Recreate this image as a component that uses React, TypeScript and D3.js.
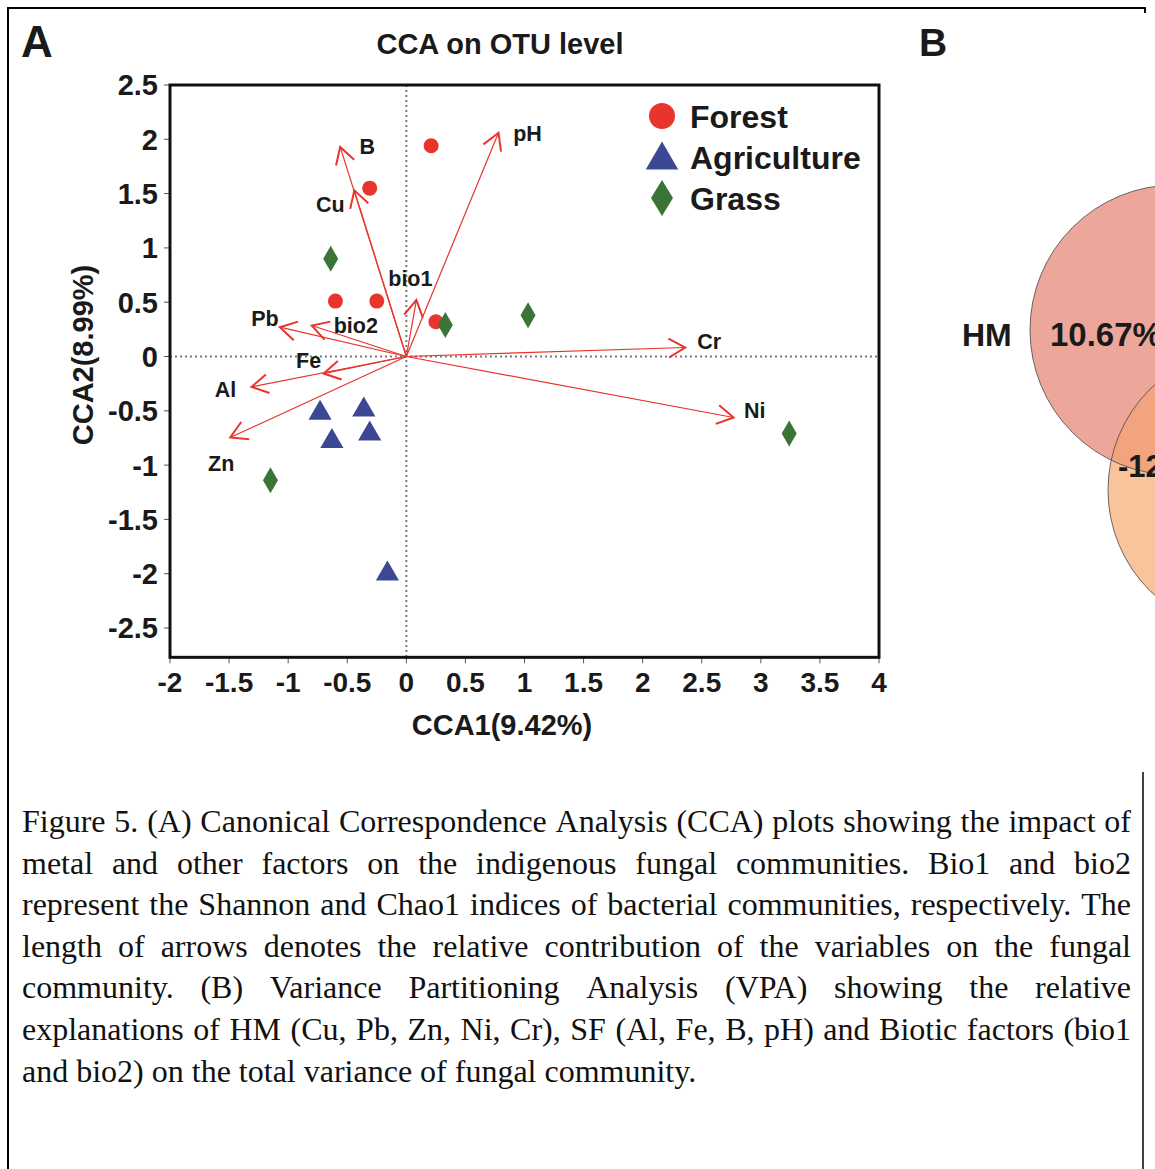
import { useEffect, useRef } from 'react'
import * as d3 from 'd3'

const xTicks = [-2, -1.5, -1, -0.5, 0, 0.5, 1, 1.5, 2, 2.5, 3, 3.5, 4]
const yTicks = [2.5, 2, 1.5, 1, 0.5, 0, -0.5, -1, -1.5, -2, -2.5]

const groups = ['Forest', 'Agriculture', 'Grass']
const forestPts: [number, number][] = [[0.21, 1.94], [-0.31, 1.55], [-0.6, 0.51], [-0.25, 0.51], [0.25, 0.32]]
const agriPts: [number, number][] = [[-0.73, -0.5], [-0.36, -0.47], [-0.63, -0.76], [-0.31, -0.69], [-0.16, -1.98]]
const grassPts: [number, number][] = [[-0.64, 0.9], [0.33, 0.29], [1.03, 0.38], [3.24, -0.71], [-1.15, -1.14]]

const envVars = ['B', 'Cu', 'pH', 'bio1', 'Pb', 'bio2', 'Fe', 'Al', 'Zn', 'Cr', 'Ni']
const envX = [-0.56, -0.44, 0.78, 0.085, -1.07, -0.8, -0.7, -1.31, -1.49, 2.36, 2.77]
const envY = [1.93, 1.53, 2.06, 0.52, 0.27, 0.285, -0.157, -0.28, -0.746, 0.083, -0.562]

// label placement relative to arrow tip, px
const labelOffsets: Record<string, [number, number]> = {
  B: [27, -1], Cu: [-24, 14], pH: [29, 0], bio1: [-6, -22], Pb: [-15, -9], bio2: [44, 0],
  Fe: [-15, -13], Al: [-26, 2], Zn: [-9, 26], Cr: [24, -6], Ni: [21, -7],
}

const vennSets = ['HM']
const vennValues = ['10.67%', '-12']

const captionLines = [
  'Figure 5. (A) Canonical Correspondence Analysis (CCA) plots showing the impact of',
  'metal and other factors on the indigenous fungal communities. Bio1 and bio2',
  'represent the Shannon and Chao1 indices of bacterial communities, respectively. The',
  'length of arrows denotes the relative contribution of the variables on the fungal',
  'community. (B) Variance Partitioning Analysis (VPA) showing the relative',
  'explanations of HM (Cu, Pb, Zn, Ni, Cr), SF (Al, Fe, B, pH) and Biotic factors (bio1',
  'and bio2) on the total variance of fungal community.',
]

const SANS = '"Liberation Sans", Arial, sans-serif'
const SERIF = '"Liberation Serif", "Times New Roman", serif'
const RED = '#e8342c'
const BLUE = '#3c4894'
const GREEN = '#3a7436'

export default function App() {
  const svgRef = useRef<SVGSVGElement>(null)

  useEffect(() => {
    if (!svgRef.current) return
    const svg = d3.select(svgRef.current)
    svg.selectAll('*').remove()

    const W = 1155
    const H = 1169

    svg.append('rect').attr('width', W).attr('height', H).attr('fill', '#ffffff')

    // ---- panel B (venn, mostly cut off) ----
    const defs = svg.append('defs')
    const pink = { cx: 1175, cy: 330, r: 145 }
    const orange = { cx: 1250, cy: 490, r: 142 }
    defs.append('clipPath').attr('id', 'pinkClip')
      .append('circle').attr('cx', pink.cx).attr('cy', pink.cy).attr('r', pink.r)

    svg.append('circle').attr('cx', pink.cx).attr('cy', pink.cy).attr('r', pink.r)
      .attr('fill', '#eca79a')
    svg.append('circle').attr('cx', orange.cx).attr('cy', orange.cy).attr('r', orange.r)
      .attr('fill', '#f9c49b')
    svg.append('circle').attr('cx', orange.cx).attr('cy', orange.cy).attr('r', orange.r)
      .attr('fill', '#f1a47e').attr('clip-path', 'url(#pinkClip)')
    svg.append('circle').attr('cx', pink.cx).attr('cy', pink.cy).attr('r', pink.r)
      .attr('fill', 'none').attr('stroke', '#444').attr('stroke-width', 0.8)
    svg.append('circle').attr('cx', orange.cx).attr('cy', orange.cy).attr('r', orange.r)
      .attr('fill', 'none').attr('stroke', '#444').attr('stroke-width', 0.8)

    svg.append('text').attr('x', 962).attr('y', 346).text(vennSets[0])
      .attr('font-family', SANS).attr('font-weight', 'bold').attr('font-size', 32).attr('fill', '#1a1a1a')
    svg.append('text').attr('x', 1050).attr('y', 346).text(vennValues[0])
      .attr('font-family', SANS).attr('font-weight', 'bold').attr('font-size', 33).attr('fill', '#1a1a1a')
    svg.append('text').attr('x', 1118).attr('y', 477).text(vennValues[1])
      .attr('font-family', SANS).attr('font-weight', 'bold').attr('font-size', 31).attr('fill', '#1a1a1a')

    svg.append('text').attr('x', 919).attr('y', 56).text('B')
      .attr('font-family', SANS).attr('font-weight', 'bold').attr('font-size', 39).attr('fill', '#1a1a1a')

    // ---- outer border ----
    svg.append('path')
      .attr('d', `M8,${H} L8,8 L1145,8 L1145,13`)
      .attr('fill', 'none').attr('stroke', '#000').attr('stroke-width', 2)
    svg.append('line').attr('x1', 1143).attr('x2', 1143).attr('y1', 772).attr('y2', H)
      .attr('stroke', '#000').attr('stroke-width', 1.5)

    // ---- panel A ----
    svg.append('text').attr('x', 21).attr('y', 57).text('A')
      .attr('font-family', SANS).attr('font-weight', 'bold').attr('font-size', 44).attr('fill', '#1a1a1a')

    svg.append('text').attr('x', 500).attr('y', 54).attr('text-anchor', 'middle')
      .text('CCA on OTU level')
      .attr('font-family', SANS).attr('font-weight', 'bold').attr('font-size', 29).attr('fill', '#1a1a1a')

    const x = d3.scaleLinear().domain([-2, 4]).range([170, 879])
    const y = d3.scaleLinear().domain([-2.5, 2.5]).range([628, 85])
    const yBottom = y(-2.77)
    const xLeft = x(-2)
    const xRight = x(4)
    const yTop = y(2.5)

    const plot = svg.append('g')

    // zero lines
    plot.append('line').attr('x1', x(0)).attr('x2', x(0)).attr('y1', yTop).attr('y2', yBottom)
      .attr('stroke', '#7a7a7a').attr('stroke-width', 2).attr('stroke-dasharray', '2,3')
    plot.append('line').attr('x1', xLeft).attr('x2', xRight).attr('y1', y(0)).attr('y2', y(0))
      .attr('stroke', '#7a7a7a').attr('stroke-width', 2).attr('stroke-dasharray', '2,3')

    // ticks
    plot.selectAll('.xt').data(xTicks).join('line')
      .attr('x1', d => x(d)).attr('x2', d => x(d)).attr('y1', yBottom).attr('y2', yBottom + 6)
      .attr('stroke', '#555').attr('stroke-width', 1)
    plot.selectAll('.xl').data(xTicks).join('text')
      .attr('x', d => x(d)).attr('y', yBottom + 35).attr('text-anchor', 'middle')
      .text(d => String(d))
      .attr('font-family', SANS).attr('font-weight', 'bold').attr('font-size', 28).attr('fill', '#1a1a1a')
    plot.selectAll('.yt').data(yTicks).join('line')
      .attr('x1', xLeft - 6).attr('x2', xLeft).attr('y1', d => y(d)).attr('y2', d => y(d))
      .attr('stroke', '#555').attr('stroke-width', 1)
    plot.selectAll('.yl').data(yTicks).join('text')
      .attr('x', xLeft - 12).attr('y', d => y(d)).attr('text-anchor', 'end').attr('dy', '0.36em')
      .text(d => String(d))
      .attr('font-family', SANS).attr('font-weight', 'bold').attr('font-size', 29).attr('fill', '#1a1a1a')

    // axis titles
    svg.append('text').attr('x', 502).attr('y', 735).attr('text-anchor', 'middle')
      .text('CCA1(9.42%)')
      .attr('font-family', SANS).attr('font-weight', 'bold').attr('font-size', 29).attr('fill', '#1a1a1a')
    svg.append('text').attr('transform', 'translate(93,355) rotate(-90)').attr('text-anchor', 'middle')
      .text('CCA2(8.99%)')
      .attr('font-family', SANS).attr('font-weight', 'bold').attr('font-size', 29).attr('fill', '#1a1a1a')

    // arrows
    const ox = x(0)
    const oy = y(0)
    const env = envVars.map((name, i) => ({ name, tx: x(envX[i]), ty: y(envY[i]) }))
    const arrows = plot.append('g')
    arrows.selectAll('.shaft').data(env).join('line')
      .attr('x1', ox).attr('y1', oy).attr('x2', d => d.tx).attr('y2', d => d.ty)
      .attr('stroke', RED).attr('stroke-width', 1.2)
    const headLen = 19
    const headAng = Math.PI / 6
    arrows.selectAll('.head').data(env).join('path')
      .attr('d', d => {
        const th = Math.atan2(d.ty - oy, d.tx - ox) + Math.PI
        const a1 = [d.tx + headLen * Math.cos(th + headAng), d.ty + headLen * Math.sin(th + headAng)]
        const a2 = [d.tx + headLen * Math.cos(th - headAng), d.ty + headLen * Math.sin(th - headAng)]
        return `M${a1[0]},${a1[1]} L${d.tx},${d.ty} L${a2[0]},${a2[1]}`
      })
      .attr('fill', 'none').attr('stroke', RED).attr('stroke-width', 2)
    arrows.selectAll('.lab').data(env).join('text')
      .attr('x', d => d.tx + labelOffsets[d.name][0])
      .attr('y', d => d.ty + labelOffsets[d.name][1])
      .attr('text-anchor', 'middle').attr('dy', '0.36em')
      .text(d => d.name)
      .attr('font-family', SANS).attr('font-weight', 'bold').attr('font-size', 21.5).attr('fill', '#1a1a1a')

    // symbols
    const tri = (s: number) => `M0,${-s * 0.55} L${s * 0.58},${s * 0.45} L${-s * 0.58},${s * 0.45} Z`
    const dia = (w: number, h: number) => `M0,${-h / 2} L${w / 2},0 L0,${h / 2} L${-w / 2},0 Z`

    plot.selectAll('.forest').data(forestPts).join('circle')
      .attr('cx', d => x(d[0])).attr('cy', d => y(d[1])).attr('r', 7.5).attr('fill', RED)
    plot.selectAll('.agri').data(agriPts).join('path')
      .attr('d', tri(20)).attr('transform', d => `translate(${x(d[0])},${y(d[1])})`).attr('fill', BLUE)
    plot.selectAll('.grass').data(grassPts).join('path')
      .attr('d', dia(15, 26)).attr('transform', d => `translate(${x(d[0])},${y(d[1])})`).attr('fill', GREEN)

    // frame
    plot.append('rect').attr('x', xLeft).attr('y', yTop).attr('width', xRight - xLeft).attr('height', yBottom - yTop)
      .attr('fill', 'none').attr('stroke', '#111').attr('stroke-width', 3)

    // legend
    const legend = svg.append('g')
    const legY = [116, 157, 198]
    legend.append('circle').attr('cx', 662).attr('cy', legY[0]).attr('r', 13).attr('fill', RED)
    legend.append('path').attr('d', tri(28)).attr('transform', `translate(662,${legY[1]})`).attr('fill', BLUE)
    legend.append('path').attr('d', dia(22, 36)).attr('transform', `translate(662,${legY[2]})`).attr('fill', GREEN)
    legend.selectAll('.lt').data(groups).join('text')
      .attr('x', 690).attr('y', (_, i) => legY[i]).attr('dy', '0.36em')
      .text(d => d)
      .attr('font-family', SANS).attr('font-weight', 'bold').attr('font-size', 32).attr('fill', '#1a1a1a')

    // ---- caption, justified ----
    const capLeft = 22
    const capRight = 1131
    const capTop = 832
    const capStep = 41.6
    const capSize = 32
    const cap = svg.append('g')
      .attr('font-family', SERIF).attr('font-size', capSize).attr('fill', '#111')
    const probe = cap.append('text').text('a a')
    const probe2 = cap.append('text').text('aa')
    const spaceW = (probe.node() as SVGTextElement).getComputedTextLength() -
      (probe2.node() as SVGTextElement).getComputedTextLength()
    probe.remove()
    probe2.remove()
    captionLines.forEach((line, li) => {
      const words = line.split(' ')
      const by = capTop + li * capStep
      const nodes = words.map(w => cap.append('text').attr('y', by).text(w))
      const widths = nodes.map(n => (n.node() as SVGTextElement).getComputedTextLength())
      const total = d3.sum(widths)
      const last = li === captionLines.length - 1
      const gap = last ? spaceW : (capRight - capLeft - total) / (words.length - 1)
      let cx = capLeft
      nodes.forEach((n, i) => {
        n.attr('x', cx)
        cx += widths[i] + gap
      })
    })
  }, [])

  return (
    <svg
      ref={svgRef}
      width={1155}
      height={1169}
      style={{ position: 'absolute', left: 0, top: 0, display: 'block' }}
    />
  )
}
